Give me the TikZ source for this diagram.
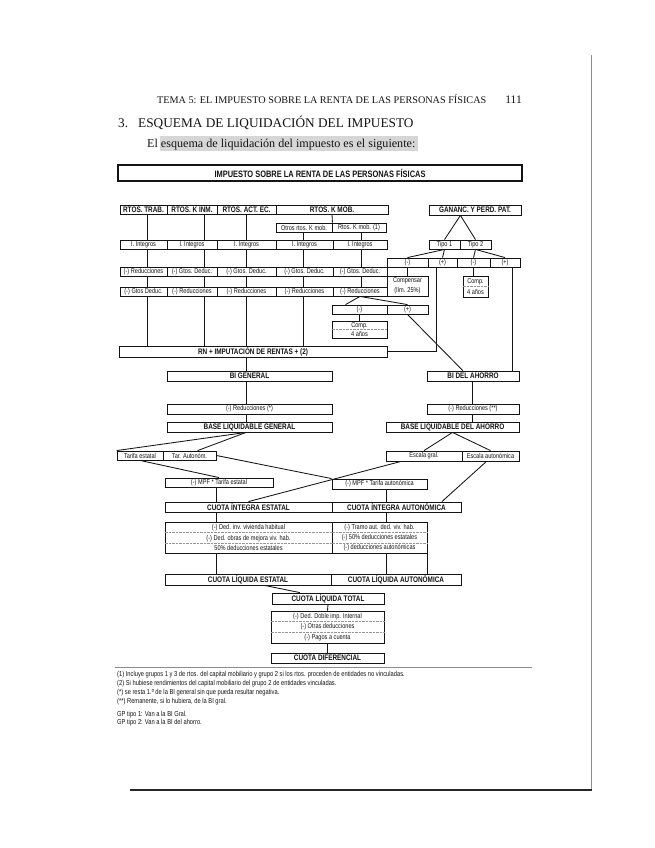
\documentclass[tikz,border=0pt]{standalone}
\usepackage{fontspec}
\setmainfont{Liberation Serif}
\newfontfamily\narrowsf[FakeStretch=0.8]{Liberation Sans}
\usetikzlibrary{calc}
\definecolor{ink}{HTML}{141414}
\definecolor{marker}{HTML}{D6D6D6}
\definecolor{edge}{HTML}{8C8C8C}
\newcommand{\cellfont}{\narrowsf\fontsize{7}{10.3}\selectfont}
\newcommand{\headfont}{\narrowsf\bfseries\fontsize{8}{9}\selectfont}

\begin{document}
\begin{tikzpicture}[
    x=1pt, y=-1pt,
    every node/.style={inner sep=0pt, text=ink},
    cell/.style={
        draw=ink,
        line width=0.85pt,
        fill=white,
        minimum width=#1,
        minimum height=9pt,
        font=\cellfont,
        align=center
    },
    hcell/.style={cell=#1, font=\headfont},
    link/.style={draw=ink, line width=0.85pt},
    sep/.style={draw=ink!45, densely dotted, line width=0.4pt}
]
\fill[white] (0,0) rectangle (655,848);
\useasboundingbox (0,0) rectangle (655,848);

% page head
\node[anchor=base west, font=\fontsize{10.2}{12}\selectfont] (tema) at (157,103) {TEMA 5: EL IMPUESTO SOBRE LA RENTA DE LAS PERSONAS FÍSICAS};
\node[anchor=base east, font=\fontsize{11.5}{13}\selectfont] (pag) at (522,103) {111};
\node[anchor=base west, font=\fontsize{13.3}{15}\selectfont] (num) at (118,128) {3.};
\node[anchor=base west, font=\fontsize{13.3}{15}\selectfont] (titulo) at (138,128) {ESQUEMA DE LIQUIDACIÓN DEL IMPUESTO};
\fill[marker] (160,136) rectangle (418,151);
\node[anchor=base west, font=\fontsize{12.1}{14}\selectfont] (intro) at (147,147) {El esquema de liquidación del impuesto es el siguiente:};

\node[hcell=404pt, minimum height=16pt, line width=1.5pt, font=\narrowsf\bfseries\fontsize{9.3}{10}\selectfont] (irpf) at (320,173) {IMPUESTO SOBRE LA RENTA DE LAS PERSONAS FÍSICAS};

% rendimientos
\node[hcell=47pt] (trab) at (143.5,209.5) {RTOS. TRAB.};
\node[hcell=50pt] (kinm) at (192,209.5) {RTOS. K INM.};
\node[hcell=59pt] (actec) at (246.5,209.5) {RTOS. ACT. EC.};
\node[hcell=112pt] (kmob) at (332,209.5) {RTOS. K MOB.};
\node[cell=56pt] (otros) at (304,227.5) {Otros rtos. K mob.};
\node[cell=54pt] (kmobuno) at (359,227.5) {Rtos. K mob. (1)};

\foreach \n/\x/\w in {1/143.5/47, 2/192/50, 3/246.5/59, 4/304.5/57, 5/360/54}
    \node[cell=\w pt] (int\n) at (\x,244.5) {I. Integros};
\foreach \n/\x/\w/\t in {1/143.5/47/{(-) Reducciones}, 2/192/50/{(-) Gtos. Deduc.}, 3/246.5/59/{(-) Gtos. Deduc.}, 4/304.5/57/{(-) Gtos. Deduc.}, 5/360/54/{(-) Gtos. Deduc.}}
    \node[cell=\w pt] (gto\n) at (\x,271.5) {\t};
\foreach \n/\x/\w/\t in {1/143.5/47/{(-) Gtos Deduc.}, 2/192/50/{(-) Reducciones}, 3/246.5/59/{(-) Reducciones}, 4/304.5/57/{(-) Reducciones}, 5/360/54/{(-) Reducciones}}
    \node[cell=\w pt] (red\n) at (\x,291.5) {\t};

\node[cell=55pt] (kpa) at (359.5,309.5) {(-)};
\node[cell=41pt] (kpb) at (407.5,309.5) {(+)};
\node[cell=55pt, minimum height=17pt, font=\narrowsf\fontsize{7}{8.5}\selectfont] (compk) at (359.5,329.5) {Comp.\\4 años};

% ganancias patrimoniales
\node[hcell=92pt, minimum height=10pt] (ganan) at (475,210) {GANANC. Y PERD. PAT.};
\node[cell=31pt] (tipo1) at (444.5,244.5) {Tipo 1};
\node[cell=31pt] (tipo2) at (475.5,244.5) {Tipo 2};
\node[cell=41pt] (gpa) at (407.5,262.5) {(-)};
\node[cell=29pt] (gpb) at (442.5,262.5) {(+)};
\node[cell=33pt] (gpc) at (473.5,262.5) {(-)};
\node[cell=30pt] (gpd) at (505,262.5) {(+)};
\node[cell=41pt, minimum height=20pt] (compens) at (407.5,286) {Compensar\\(lím. 25\%)};
\node[cell=25pt, minimum height=21pt] (comptipo) at (475.5,286.5) {Comp.\\4 años};

\node[hcell=268pt, minimum height=11pt] (rn) at (253,351.5) {RN + IMPUTACIÓN DE RENTAS + (2)};

% bases
\node[hcell=165pt, minimum height=10pt] (bigen) at (249.5,376) {BI GENERAL};
\node[hcell=92pt, minimum height=10pt] (biah) at (473,376) {BI DEL AHORRO};
\node[cell=165pt, minimum height=10pt] (redgen) at (249.5,409) {(-) Reducciones (*)};
\node[cell=92pt, minimum height=10pt] (redah) at (473,409) {(-) Reducciones (**)};
\node[hcell=165pt, minimum height=10pt] (blgen) at (249.5,427) {BASE LIQUIDABLE GENERAL};
\node[hcell=133pt, minimum height=10pt] (blah) at (452.5,427) {BASE LIQUIDABLE DEL AHORRO};

% tarifas
\node[cell=46pt] (tarest) at (140,455.5) {Tarifa estatal};
\node[cell=53pt] (taraut) at (189.5,455.5) {Tar. Autonóm.};
\node[cell=76pt, minimum height=10pt] (escgral) at (424,456) {Escala gral.};
\node[cell=57pt, minimum height=10pt] (escaut) at (490.5,456) {Escala autonómica};
\node[cell=108pt] (mpfest) at (219,482.5) {(-) MPF * Tarifa estatal};
\node[cell=95pt, minimum height=10pt] (mpfaut) at (379.5,484) {(-) MPF * Tarifa autonómica};

% cuotas
\node[hcell=167pt, minimum height=10pt] (ciest) at (248.5,507) {CUOTA ÍNTEGRA ESTATAL};
\node[hcell=129pt, minimum height=10pt] (ciaut) at (396.5,507) {CUOTA ÍNTEGRA AUTONÓMICA};
\node[cell=167pt, minimum height=31pt] (dedest) at (248.5,537.5) {(-) Ded. inv. vivienda habitual\\(-) Ded. obras de mejora viv. hab.\\50\% deducciones estatales};
\node[cell=95pt, minimum height=31pt] (dedaut) at (379.5,537.5) {(-) Tramo aut. ded. viv. hab.\\(-) 50\% deducciones estatales\\(-) deducciones autonómicas};
\node[hcell=166pt, minimum height=11pt] (clest) at (248,579.5) {CUOTA LÍQUIDA ESTATAL};
\node[hcell=130pt, minimum height=11pt] (claut) at (396,579.5) {CUOTA LÍQUIDA AUTONÓMICA};
\node[hcell=112pt, minimum height=11pt] (cltot) at (328,598.5) {CUOTA LÍQUIDA TOTAL};
\node[cell=113pt, minimum height=32pt] (dedtot) at (327.5,627) {(-) Ded. Doble imp. Internal\\(-) Otras deducciones\\(-) Pagos a cuenta};
\node[hcell=113pt, minimum height=10pt] (cdif) at (327.5,658) {CUOTA DIFERENCIAL};

\foreach \n in {dedest, dedaut, dedtot}
    \foreach \f in {0.333, 0.667}
        \draw[sep] ($(\n.north west)!\f!(\n.south west)$) -- ($(\n.north east)!\f!(\n.south east)$);
\foreach \n in {comptipo, compk}
    \draw[sep] (\n.west) -- (\n.east);

% x of the off-centre lines
\coordinate (l1) at (147,0);
\coordinate (l2) at (204,0);
\coordinate (l3) at (246,0);
\coordinate (l4) at (303,0);
\coordinate (l5) at (361,0);
\coordinate (l6) at (436,0);
\coordinate (l7) at (512,0);
\coordinate (l8) at (472,0);
\coordinate (l9) at (216,0);
\coordinate (l10) at (386,0);

\draw[link] (kmob.south) -- (otros.north east);
\foreach \top/\c in {trab/1, kinm/2, actec/3, otros/4, kmobuno/5}
    \draw[link] (\top.south -| l\c) -- (int\c.north -| l\c)
                (int\c.south -| l\c) -- (gto\c.north -| l\c)
                (gto\c.south -| l\c) -- (red\c.north -| l\c);
\foreach \c in {1,...,4}
    \draw[link] (red\c.south -| l\c) -- (rn.north -| l\c);
\draw[link] (red5.south) -- ($(kpa.north west)!0.25!(kpa.north east)$);
\draw[link] (red5.south) -- (kpb.north);
\draw[link] (kpa.south) -- (compk.north);
\draw[link] (kpb.south) -- ($(biah.north west)!0.39!(biah.north east)$);

\draw[link] (ganan.south -| tipo1.north east) -- (tipo1.north);
\draw[link] (ganan.south -| tipo1.north east) -- (tipo2.north);
\draw[link] (tipo1.south) -- (gpa.north);
\draw[link] (tipo1.south) -- (gpb.north);
\draw[link] (tipo2.south) -- (gpc.north);
\draw[link] (tipo2.south) -- (gpd.north);
\draw[link] (gpa.south) -- (compens.north);
\draw[link] (gpc.south) -- (comptipo.north -| gpc.south);
\draw[link] (gpb.south -| l6) |- (rn.east);
\draw[link] (gpd.south -| l7) -- (biah.north -| l7);

\draw[link] (rn.south -| l3) -- (bigen.north -| l3);
\draw[link] (bigen.south -| l3) -- (redgen.north -| l3);
\draw[link] (redgen.south -| l3) -- (blgen.north -| l3);
\draw[link] (biah.south -| l8) -- (redah.north -| l8);
\draw[link] (redah.south -| l8) -- (blah.north -| l8);

\draw[link] (blgen.south -| l3) -- (tarest.north west);
\draw[link] (blgen.south -| l3) -- ($(taraut.north west)!0.65!(taraut.north east)$);
\draw[link] (blah.south) -- (escgral.north);
\draw[link] (blah.south) -- (escaut.north);
\draw[link] (tarest.south) -- (mpfest.north);
\draw[link] (taraut.east) -- (mpfaut.north west);
\draw[link] ($(escgral.south west)!0.2!(escgral.south east)$) -- (ciest.north);
\draw[link] ($(escaut.south west)!0.43!(escaut.south east)$) -- ($(ciaut.north west)!0.85!(ciaut.north east)$);

\draw[link] (mpfest.south -| l9) -- (ciest.north -| l9);
\draw[link] (ciest.south -| l9) -- (dedest.north -| l9);
\draw[link] (dedest.south -| l9) -- (clest.north -| l9);
\draw[link] (mpfaut.south -| l10) -- (ciaut.north -| l10);
\draw[link] (ciaut.south -| l10) -- (dedaut.north -| l10);
\draw[link] (dedaut.south -| l10) -- (claut.north -| l10);
\draw[link] (dedaut.south east) -- (claut.north -| dedaut.south east);
\draw[link] ($(clest.south west)!0.6!(clest.south east)$) -- ($(cltot.north west)!0.25!(cltot.north east)$);
\draw[link] (cltot.south) -- (dedtot.north);
\draw[link] (dedtot.south) -- (cdif.north);

% notes
\draw[edge, line width=0.5pt] (115,667) -- (532,667);
\foreach \y/\t [count=\i] in {676/{(1) Incluye grupos 1 y 3 de rtos. del capital mobiliario y grupo 2 si los rtos. proceden de entidades no vinculadas.},
    685/{(2) Si hubiese rendimientos del capital mobiliario del grupo 2 de entidades vinculadas.},
    694/{(*) se resta 1.º de la BI general sin que pueda resultar negativa.},
    703.5/{(**) Remanente, si lo hubiera, de la BI gral.},
    716/{GP tipo 1: Van a la BI Gral.},
    724.5/{GP tipo 2: Van a la BI del ahorro.}}
    \node[anchor=base west, font=\narrowsf\fontsize{7.2}{8}\selectfont] (nota\i) at (117,\y) {\t};

% edges of the scanned sheet
\draw[edge, line width=1pt] (591,55) -- (591,790);
\draw[black!85, line width=2pt] (130,790) -- (592,790);
\end{tikzpicture}
\end{document}
